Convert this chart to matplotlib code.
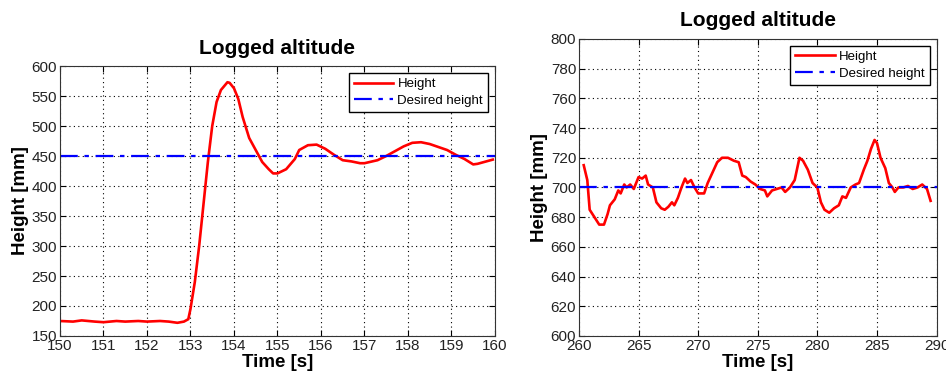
import numpy as np
import matplotlib.pyplot as plt

plt.rcParams['font.family'] = ['Liberation Sans', 'DejaVu Sans']

# left run: step to 450 mm
t1 = [150.0, 150.3, 150.5, 150.8, 151.0, 151.3, 151.5, 151.8, 152.0, 152.3, 152.5, 152.7,
      152.85, 152.95, 153.0, 153.1, 153.2, 153.3, 153.4, 153.5, 153.6, 153.7, 153.85, 153.9,
      154.0, 154.1, 154.2, 154.35, 154.5, 154.65, 154.8, 154.9, 155.0, 155.2, 155.4, 155.5,
      155.7, 155.9, 156.1, 156.3, 156.5, 156.7, 156.9, 157.0, 157.3, 157.5, 157.7, 157.9,
      158.1, 158.3, 158.5, 158.7, 158.9, 159.1, 159.3, 159.5, 159.6, 159.8, 159.95]
h1 = [175, 174, 176, 174, 173, 175, 174, 175, 174, 175, 174, 172,
      174, 178, 195, 240, 300, 370, 440, 500, 540, 560, 573, 572,
      563, 545, 515, 480, 460, 440, 428, 421, 421, 428, 445, 460,
      468, 469, 462, 452, 443, 441, 438, 438, 443, 450, 458, 466,
      472, 473, 470, 465, 460, 452, 445, 436, 437, 441, 444]
desired1 = 450

# right run: hover at 700 mm
t2 = [260.4, 260.7, 260.9, 261.3, 261.7, 262.1, 262.4, 262.6, 263.0, 263.3, 263.5, 263.8,
      264.0, 264.3, 264.6, 265.0, 265.3, 265.6, 265.8, 266.2, 266.5, 266.9, 267.2, 267.5,
      267.8, 268.0, 268.3, 268.6, 268.9, 269.1, 269.4, 269.7, 270.0, 270.5, 270.8, 271.2,
      271.6, 272.0, 272.5, 273.0, 273.4, 273.7, 274.0, 274.4, 274.8, 275.2, 275.6, 275.8,
      276.2, 276.6, 277.0, 277.3, 277.7, 278.1, 278.5, 278.8, 279.2, 279.6, 280.0, 280.3,
      280.6, 281.0, 281.4, 281.8, 282.1, 282.4, 282.8, 283.2, 283.5, 283.9, 284.2, 284.5,
      284.8, 285.0, 285.3, 285.7, 286.0, 286.3, 286.5, 286.8, 287.2, 287.6, 288.0, 288.4,
      288.8, 289.2, 289.5]
h2 = [715, 705, 685, 680, 675, 675, 682, 688, 692, 698, 696, 702,
      700, 702, 699, 707, 706, 708, 702, 700, 690, 686, 685, 687,
      690, 688, 693, 700, 706, 703, 705, 700, 696, 696, 703, 710,
      717, 720, 720, 718, 717, 708, 707, 704, 702, 699, 698, 694,
      698, 699, 700, 697, 700, 705, 720, 718, 712, 703, 700, 690,
      685, 683, 686, 688, 694, 693, 700, 702, 703, 712, 718, 726,
      732, 730, 720, 713, 703, 700, 697, 700, 700, 701, 699, 700,
      702, 699, 691]
desired2 = 700

fig = plt.figure(figsize=(9.46, 3.76), dpi=100)
ax1 = fig.add_axes([0.0634, 0.1064, 0.4598, 0.718])
ax2 = fig.add_axes([0.612, 0.1064, 0.378, 0.790])


def style(ax, xlim, ylim, xt, yt):
    ax.set_xlim(xlim)
    ax.set_ylim(ylim)
    ax.set_xticks(xt)
    ax.set_yticks(yt)
    ax.grid(True, color='black', linestyle=(0, (1, 3)), linewidth=0.8)
    ax.tick_params(direction='in', top=True, right=True, labelsize=11,
                   labelcolor='#222222', length=4, pad=2)
    for s in ax.spines.values():
        s.set_color('#333333')
    ax.set_title('Logged altitude', fontsize=15, fontweight='bold', pad=9)
    ax.set_xlabel('Time [s]', fontsize=13.5, fontweight='bold', labelpad=1)
    ax.set_ylabel('Height [mm]', fontsize=13.5, fontweight='bold', labelpad=2)


ax1.plot(t1, h1, color='red', lw=1.9, label='Height')
ax1.axhline(desired1, color='blue', lw=1.6, linestyle=(0, (8, 3, 2, 3)), label='Desired height')
style(ax1, (150, 160), (150, 600), np.arange(150, 161, 1), np.arange(150, 601, 50))

ax2.plot(t2, h2, color='red', lw=1.9, label='Height')
ax2.axhline(desired2, color='blue', lw=1.6, linestyle=(0, (8, 3, 2, 3)), label='Desired height')
style(ax2, (260, 290), (600, 800), np.arange(260, 291, 5), np.arange(600, 801, 20))

for ax in (ax1, ax2):
    leg = ax.legend(loc='upper right', fontsize=9.5, fancybox=False, framealpha=1,
                    edgecolor='black', borderaxespad=0.5, handlelength=3.0,
                    handletextpad=0.3, borderpad=0.4, labelspacing=0.35)
    leg.get_frame().set_linewidth(1.0)

fig.savefig('out.png', dpi=100)
